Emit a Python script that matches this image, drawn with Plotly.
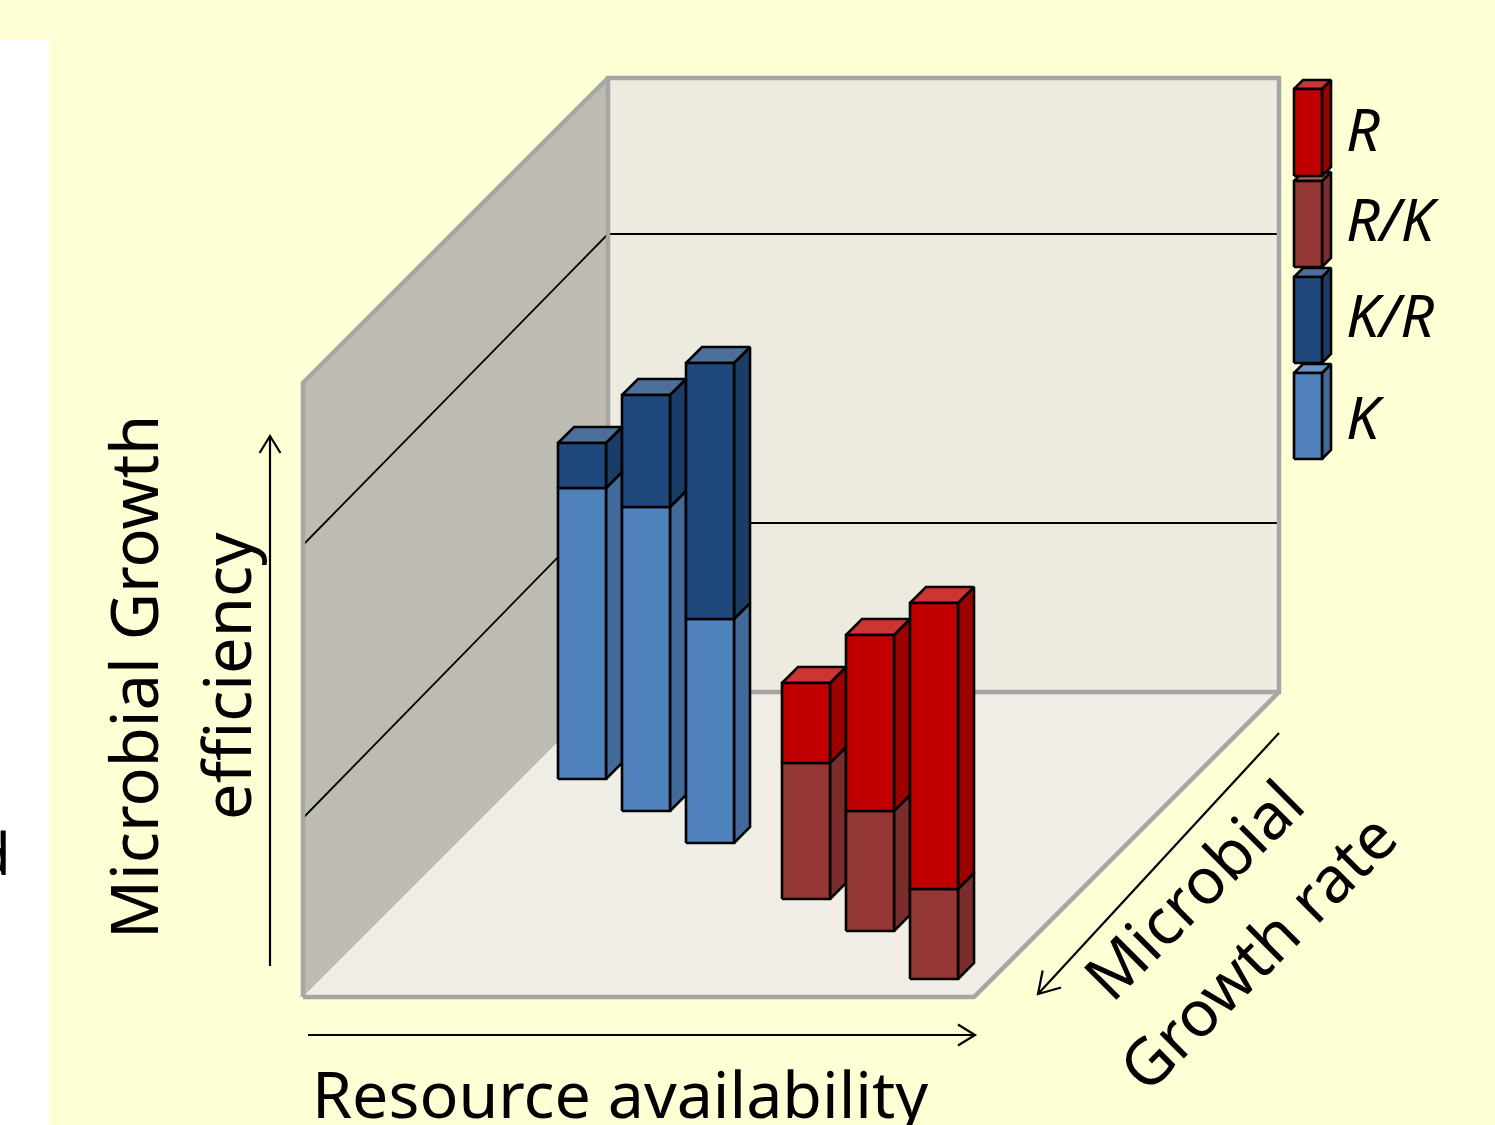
import math
import plotly.graph_objects as go

# ---- data (chart units; floor corner is the origin) ----
series_names = ["R", "R/K", "K/R", "K"]
blue_x = [37, 133, 229]
blue_depth = [218, 186, 154]
k_values = [291, 304, 224]
kr_values = [45, 112, 256]
red_x = [381, 477, 589]
red_depth = [98, 66, 18]
rk_values = [136, 120, 90]
r_values = [80, 176, 286]
legend_heights = [87, 86, 86, 86]

PANE_W, PANE_H, PANE_D = 671, 614, 305
back_grid = [169, 458]
left_grid_front = [179, 452]
left_grid_back = [186, 458]

BG = "#FFFFD5"
COL = {
    "R":   ("#C00000", "#9C0000", "#CD3535"),
    "R/K": ("#953735", "#7A2D2C", "#AA5F5D"),
    "K/R": ("#1F497D", "#1A3C66", "#4C6F99"),
    "K":   ("#4F81BD", "#41699A", "#6A93C8"),
}
FONT = "Noto Sans"

fig = go.Figure()


def P(x, h, d=0):
    """oblique projection of (across, height, depth) to the plane"""
    return x + d, h + d


def poly(pts, fill, line="rgba(0,0,0,0)", width=0):
    xs, ys = zip(*pts)
    fig.add_trace(go.Scatter(
        x=list(xs) + [xs[0]], y=list(ys) + [ys[0]], mode="lines", fill="toself",
        fillcolor=fill, line=dict(color=line, width=width), hoverinfo="skip",
        showlegend=False))


def seg(pts, color="#000000", width=1.8):
    xs, ys = zip(*pts)
    fig.add_trace(go.Scatter(x=list(xs), y=list(ys), mode="lines",
                             line=dict(color=color, width=width), hoverinfo="skip",
                             showlegend=False))


def box(x, d, h0, h1, w, dp, key, top=True, lw=2.6):
    front, side, tp = COL[key]
    poly([P(x + w, h0, d), P(x + w, h0, d + dp), P(x + w, h1, d + dp), P(x + w, h1, d)], side, "#000000", lw)
    if top:
        poly([P(x, h1, d), P(x + w, h1, d), P(x + w, h1, d + dp), P(x, h1, d + dp)], tp, "#000000", lw)
    poly([P(x, h0, d), P(x + w, h0, d), P(x + w, h1, d), P(x, h1, d)], front, "#000000", lw)


# ---- page panels ----
W, H = 1495, 1125
X0, Y0 = 303, 997
fig.add_shape(type="rect", x0=-X0, x1=49 - X0, y0=Y0 - H, y1=Y0 - 40, fillcolor="#FFFFFF",
              line_width=0, layer="below")

# ---- walls ----
grey = "#A6A6A6"
poly([P(0, 0), P(0, 0, PANE_D), P(0, PANE_H, PANE_D), P(0, PANE_H)], "#BDBBB2")
poly([P(0, 0, PANE_D), P(PANE_W, 0, PANE_D), P(PANE_W, PANE_H, PANE_D), P(0, PANE_H, PANE_D)], "#EDEBE0")
poly([P(0, 0), P(PANE_W, 0), P(PANE_W, 0, PANE_D), P(0, 0, PANE_D)], "#EFEDE5")

for f, b in zip(left_grid_front, left_grid_back):
    seg([P(0, f), P(0, b, PANE_D)])
for g in back_grid:
    seg([P(0, g, PANE_D), P(PANE_W, g, PANE_D)])

seg([P(0, 0, PANE_D), P(0, PANE_H, PANE_D), P(PANE_W, PANE_H, PANE_D), P(PANE_W, 0, PANE_D), P(0, 0, PANE_D)], grey, 4.5)
seg([P(0, 0), P(0, PANE_H), P(0, PANE_H, PANE_D)], grey, 4.5)
seg([P(0, 0), P(PANE_W, 0), P(PANE_W, 0, PANE_D)], grey, 4.5)

# ---- bars ----
BW, BD = 48, 16
for x, d, k, kr in zip(blue_x, blue_depth, k_values, kr_values):
    box(x, d, 0, k, BW, BD, "K", top=False)
    box(x, d, k, k + kr, BW, BD, "K/R")
for x, d, rk, r in zip(red_x, red_depth, rk_values, r_values):
    box(x, d, 0, rk, BW, BD, "R/K", top=False)
    box(x, d, rk, rk + r, BW, BD, "R")

# ---- legend key ----
LX, LW, LD = 1294 - X0, 28, 9
lb = Y0 - 459
for name, ht in zip(series_names[::-1], legend_heights[::-1]):
    box(LX, 0, lb, lb + ht, LW, LD, name)
    lb += ht + (5 if name == "R/K" else 10)


# ---- arrows ----
def arrow(x0, y0, x1, y1, size=14):
    a = math.atan2(y1 - y0, x1 - x0)
    seg([(x0, y0), (x1, y1)], width=2.2)
    seg([(x1 - size * math.cos(a - 0.55), y1 - size * math.sin(a - 0.55)), (x1, y1),
         (x1 - size * math.cos(a + 0.55), y1 - size * math.sin(a + 0.55))], width=2.2)


def S(px, py):
    return px - X0, Y0 - py


arrow(*S(270, 966), *S(270, 436), size=20)
arrow(*S(308, 1035), *S(975, 1035), size=20)
arrow(*S(1279, 733), *S(1038, 994), size=24)


# ---- text ----
def label(px, py, text, size=65, angle=0, italic=False, anchor="center"):
    x, y = S(px, py)
    fig.add_annotation(x=x, y=y, text=text, showarrow=False, textangle=angle,
                       xanchor=anchor, yanchor="middle",
                       font=dict(family=FONT, size=size, color="#000000",
                                 style="italic" if italic else "normal"))


label(133, 677, "Microbial Growth", angle=-90)
label(226, 676, "efficiency", angle=-90)
label(620, 1093, "Resource availability", size=64.5)
label(1192, 889, "Microbial", size=64, angle=-45)
label(1256, 951, "Growth rate", size=64, angle=-45)
label(1344, 128, "R", size=59, italic=True, anchor="left")
label(1344, 218, "R/K", size=59, italic=True, anchor="left")
label(1344, 314, "K/R", size=59, italic=True, anchor="left")
label(1344, 416, "K", size=59, italic=True, anchor="left")
label(13, 852, "d", size=58, anchor="right")

fig.update_layout(
    width=W, height=H, margin=dict(l=0, r=0, t=0, b=0),
    paper_bgcolor=BG, plot_bgcolor=BG, showlegend=False,
    xaxis=dict(range=[-X0, W - X0], visible=False, fixedrange=True),
    yaxis=dict(range=[Y0 - H, Y0], visible=False, fixedrange=True),
)
fig.write_html("out.html", config={"displayModeBar": False},
               post_script="document.body.style.margin='0';document.documentElement.style.overflow='hidden';")
